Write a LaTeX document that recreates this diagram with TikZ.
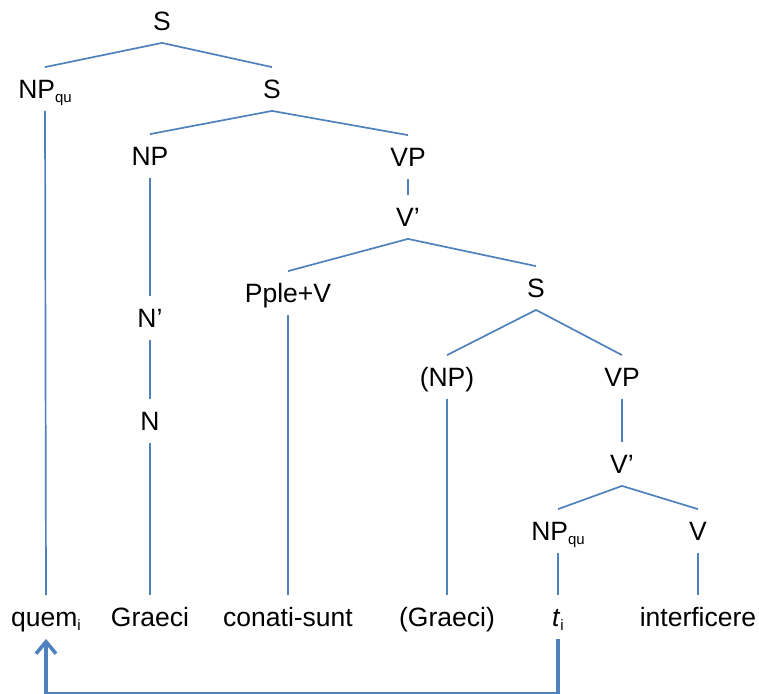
\documentclass[tikz,border=0pt]{standalone}
\usepackage{fontspec}
\setmainfont{Liberation Sans}
\usetikzlibrary{arrows.meta}
\definecolor{treeblue}{RGB}{79,129,189}
\newcommand{\sub}[1]{\raisebox{-2pt}{\fontsize{7.5}{8}\selectfont #1}}
\tikzset{
  cat/.style={text height=9.5pt,text depth=0pt,inner xsep=0pt,inner ysep=6pt},
  branch/.style={draw=treeblue,line width=0.85pt},
  move/.style={draw=treeblue,line width=1.8pt,-{Straight Barb[length=6pt,width=10pt]}}
}
\begin{document}
\begin{tikzpicture}[x=0.5pt,y=-0.5pt]
\fontsize{13.25}{16}\selectfont
\useasboundingbox (0,0) rectangle (759,693);
% categories
\node[cat] (s0) at (162,21) {S};
\node[cat] (npqu) at (45,89) {NP\sub{qu}};
\node[cat] (s1) at (272,89) {S};
\node[cat] (np) at (150,156) {NP};
\node[cat] (vp1) at (408,157) {VP};
\node[cat] (vbar1) at (408,217) {V’};
\node[cat] (nbar) at (150,318) {N’};
\node[cat] (n) at (150,421) {N};
\node[cat] (pple) at (288,293) {Pple+V};
\node[cat] (s2) at (536,288) {S};
\node[cat] (npsub) at (447,377) {(NP)};
\node[cat] (vp2) at (622,377) {VP};
\node[cat] (vbar2) at (622,464) {V’};
\node[cat] (npqu2) at (558,531) {NP\sub{qu}};
\node[cat] (v) at (698,531) {V};
% words
\foreach \name/\x/\word in {quem/46/{quem\sub{i}},graeci/150/Graeci,conati/288/conati-sunt,
  graecisub/447/(Graeci),ti/558/{\textit{t}\sub{i}},interf/698/interficere}
  \node[cat] (\name) at (\x,617) {\word};
% branches
\foreach \a/\b in {s0/npqu,s0/s1,s1/np,s1/vp1,vp1/vbar1,np/nbar,nbar/n,vbar1/pple,vbar1/s2,
  s2/npsub,s2/vp2,vp2/vbar2,vbar2/npqu2,vbar2/v,npqu/quem,n/graeci,pple/conati,
  npsub/graecisub,npqu2/ti,v/interf}
  \draw[branch] (\a.south) -- (\b.north);
% movement
\coordinate (low) at (0,694);
\draw[move] (ti.south) -- (ti.south |- low) -| (quem.south);
\end{tikzpicture}
\end{document}
